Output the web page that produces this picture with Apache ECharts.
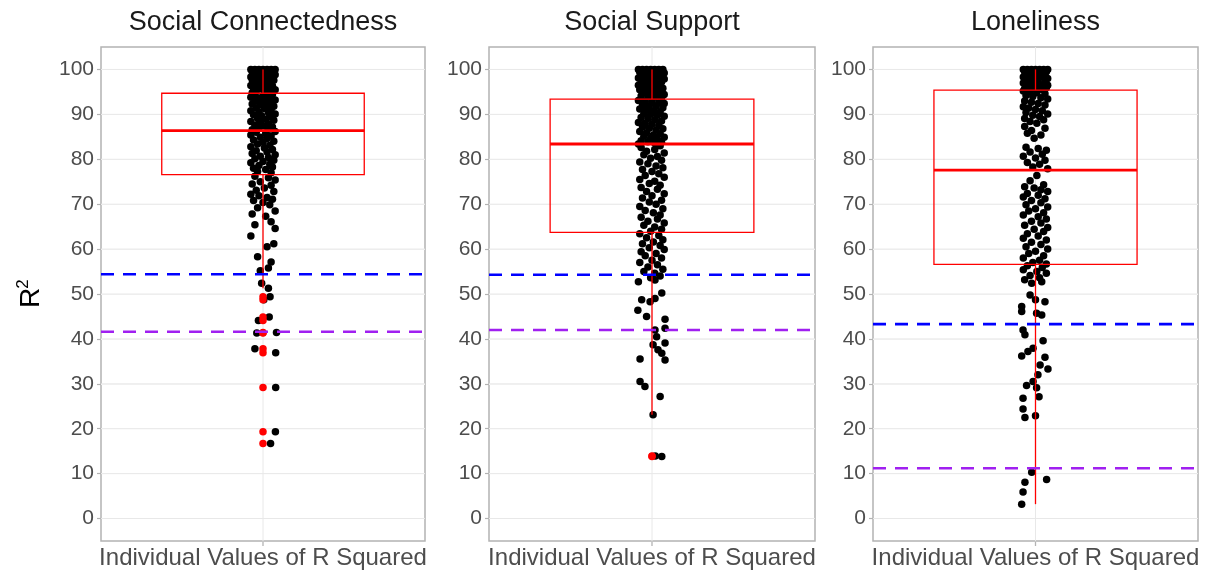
<!DOCTYPE html>
<html>
<head>
<meta charset="utf-8">
<script src="https://cdn.jsdelivr.net/npm/echarts@6/dist/echarts.min.js"></script>
<style>
  html, body { margin: 0; padding: 0; background: #ffffff; }
  #chart { width: 1215px; height: 573px; }
</style>
</head>
<body>
<div id="chart"></div>
<script>
// Panel titles, category label and y ticks
const panelTitles = ['Social Connectedness', 'Social Support', 'Loneliness'];
const categoryLabel = 'Individual Values of R Squared';
const yTicks = [0, 10, 20, 30, 40, 50, 60, 70, 80, 90, 100];

// Individual R squared values: [horizontal jitter (category units), value]
const connectednessPoints = [
  [-0.045,100],[-0.03,100],[-0.015,100],[0,100],[0.015,100],[0.03,100],[0.045,100],
  [-0.04,99.5],[-0.02,99.6],[0.01,99.4],[0.025,99.7],[0.04,99.3],
  [-0.035,99],[-0.005,98.9],[0.02,99.1],[0.045,98.8],
  [-0.045,98.3],[-0.025,98.5],[0.005,98.2],[0.03,98.4],
  [-0.04,97.7],[-0.015,97.8],[0.015,97.5],[0.04,97.6],
  [-0.03,97],[0,97.1],[0.025,96.9],
  [-0.045,96.4],[-0.02,96.5],[0.01,96.2],[0.035,96.3],
  [-0.035,95.8],[-0.005,95.7],[0.02,95.9],[0.045,95.5],
  [-0.025,95.1],[0.005,95.2],[0.03,95],[-0.04,94.8],[0.015,94.9],
  [-0.03,94.3],[0,94.2],[0.035,94.4],[-0.045,93.8],[-0.015,93.6],[0.02,93.7],[0.045,93.2],
  [-0.03,93],[0.005,92.9],[0.03,92.6],[-0.04,92.3],[-0.01,92.2],[0.015,91.9],[0.04,91.8],
  [-0.025,91.5],[0.005,91.3],[0.03,91],[-0.045,90.8],[-0.015,90.6],[0.02,90.4],[0.045,90.1],
  [-0.035,89.9],[-0.005,89.7],[0.025,89.5],[-0.02,89.1],[0.01,88.9],[0.04,88.7],
  [-0.045,88.4],[-0.01,88.2],[0.02,87.9],[-0.03,87.6],[0.005,87.4],[0.035,87.2],
  [-0.015,86.9],[0.02,86.7],[-0.04,86.6],
  [0.045,86.2],[-0.025,86],[0.01,85.8],[-0.045,85.4],[0.03,85.2],[-0.01,84.9],[0.015,84.6],
  [-0.035,84.3],[0.04,84],[0,83.8],[-0.02,83.4],[0.025,83.1],[-0.045,82.8],[0.005,82.5],
  [0.035,82.2],[-0.025,81.9],[0.015,81.6],[-0.04,81.3],[0.045,81],[-0.01,80.7],[0.02,80.4],
  [-0.03,80.1],[0.04,79.8],[0,79.5],[-0.045,79.2],[0.025,78.9],[-0.015,78.6],[0.035,78.3],
  [-0.035,78],[0.01,77.7],[-0.02,77.3],[0.03,77],
  [-0.03,76.2],[0.02,75.9],[0.045,75.4],[-0.01,75],[-0.04,74.5],[0.03,74.2],[0.005,73.6],
  [-0.025,73.1],[0.04,72.8],[-0.045,72.2],[-0.015,71.9],[0.015,71.5],[0.035,71.1],
  [-0.035,70.8],[0,70.4],[0.025,69.9],[-0.02,69.2],[0.045,68.5],[-0.04,67.8],[0.01,67.3],
  [0.03,66.1],[-0.03,65.4],[0.045,64.6],[-0.045,62.9],[0.04,61.2],[0.015,60.5],
  [-0.02,58.3],[0.03,57.1],[0.02,55.8],[-0.01,55.2],
  [-0.005,52.4],[0.02,51.3],[0.026,49.4],[0.003,48.7],[0.023,44.9],[-0.017,44.1],
  [0.05,41.4],[-0.023,41.3],[-0.03,37.8],[0.047,36.9],[0.047,29.2],[0.046,19.3],[0.028,16.7]
];

const supportPoints = [
  [-0.05,100],[-0.035,100],[-0.02,100],[-0.005,100],[0.01,100],[0.025,100],[0.04,100],
  [-0.045,99.4],[-0.025,99.5],[0,99.3],[0.02,99.6],[0.045,99.2],
  [-0.04,98.8],[-0.015,98.7],[0.01,98.9],[0.035,98.6],
  [-0.05,98.1],[-0.03,98.2],[-0.005,98],[0.02,98.3],[0.045,97.9],
  [-0.04,97.5],[-0.015,97.4],[0.01,97.6],[0.035,97.2],
  [-0.025,96.9],[0,96.8],[0.025,96.6],[-0.05,96.5],
  [-0.035,96.1],[-0.01,96],[0.015,96.2],[0.04,95.8],
  [-0.045,95.5],[-0.02,95.3],[0.005,95.4],[0.03,95.1],
  [-0.03,94.8],[-0.005,94.7],[0.02,94.5],[0.045,94.4],
  [-0.04,94.1],[-0.015,93.9],[0.01,93.8],[0.035,93.5],
  [-0.05,93.1],[-0.025,92.9],[0,92.8],[0.025,92.6],[0.045,92.4],
  [-0.035,92.1],[-0.01,91.9],[0.015,91.8],[0.04,91.5],
  [-0.045,91.2],[-0.02,91],[0.005,90.8],[0.03,90.6],
  [-0.03,90.2],[-0.005,90],[0.02,89.8],[0.045,89.6],
  [-0.04,89.3],[-0.015,89.1],[0.01,88.8],[0.035,88.5],
  [-0.05,88.2],[-0.025,88],[0,87.8],[0.025,87.5],
  [-0.035,87.2],[-0.01,86.9],[0.04,86.8],[0.015,86.5],
  [-0.045,86.2],[-0.02,85.9],[0.03,85.7],[0.005,85.4],
  [-0.03,85.1],[0.045,84.9],[-0.005,84.7],[0.02,84.4],
  [-0.04,84.1],[-0.015,83.9],[0.035,83.8],[0.01,83.6],[-0.05,83.4],[0.025,83.35],
  [0.03,83],[-0.04,82.6],[0.01,82.2],[-0.02,81.8],[0.045,81.4],[-0.03,81],[0.02,80.6],
  [-0.005,80.2],[0.035,79.8],[-0.045,79.4],[-0.015,79],[0.015,78.5],[0.04,78.1],
  [-0.035,77.7],[0,77.3],[0.025,76.8],[-0.025,76.4],[0.045,76],[-0.045,75.5],[0.01,75.1],
  [-0.01,74.6],[0.03,74.2],[-0.04,73.7],[0.02,73.3],[-0.02,72.8],[0.045,72.3],[0,71.9],
  [-0.035,71.4],[0.035,70.9],[-0.01,70.5],[0.015,70],[-0.045,69.5],[0.04,69],[-0.025,68.6],
  [0.005,68.1],[0.03,67.6],[-0.04,67.1],[0.02,66.7],[-0.015,66.2],[0.045,65.8],[-0.03,65.3],
  [0.01,64.9],[0.035,64.4],[-0.005,64],
  [-0.045,63.4],[0.025,63],[-0.02,62.5],[0.04,62.1],[0.005,61.6],[-0.035,61.2],[0.03,60.8],
  [-0.01,60.3],[0.045,59.9],[-0.04,59.4],[0.015,59],[-0.025,58.5],[0.035,58],[0,57.5],
  [-0.045,57],[0.02,56.5],[-0.015,56],[0.04,55.5],[-0.03,55],[0.01,54.6],[0.03,54],[-0.005,53.6],
  [-0.05,52.7],[0.011,53.1],[0.036,50.2],[-0.038,48.7],[-0.007,48.3],[0.011,49],
  [-0.052,46.4],[-0.02,45],[0.048,44.4],[0.011,42],[0.048,42.4],[0.017,40.5],[0.004,38.7],
  [0.048,39.1],[0.022,37.6],[0.036,36.8],[-0.044,35.5],[0.048,35.3],[-0.044,30.5],
  [-0.026,29.4],[0.03,27.2],[0.004,23.1],[0.012,13.9],[0.036,13.8]
];

const lonelinessPoints = [
  [-0.045,100],[-0.03,100],[-0.015,100],[0,100],[0.015,100],[0.03,100],[0.045,100],
  [-0.04,99.5],[-0.02,99.4],[0.005,99.6],[0.025,99.3],[0.04,99.5],
  [-0.035,98.9],[-0.01,98.8],[0.015,99],[0.035,98.7],
  [-0.045,98.3],[-0.025,98.2],[0,98.1],[0.02,98.4],[0.045,98],
  [-0.035,97.6],[-0.01,97.5],[0.01,97.7],[0.035,97.3],
  [-0.045,97],[-0.02,96.9],[0.005,96.8],[0.025,96.6],[0.045,96.5],
  [-0.03,96.3],[-0.005,96.2],[0.015,96],[0.04,95.9],
  [-0.04,95.7],[-0.015,95.6],[0.01,95.5],[0.03,95.45],
  [-0.045,95.2],[-0.02,95],[0.005,94.8],[0.035,94.6],[-0.035,94.2],[-0.01,94],[0.02,93.7],
  [0.045,93.4],[-0.04,93],[-0.015,92.7],[0.01,92.4],[0.035,92.1],[-0.045,91.7],[-0.025,91.4],
  [0,91.1],[0.025,90.8],[-0.035,90.4],[0.045,90.1],[-0.01,89.8],[0.015,89.5],[-0.04,89.1],
  [0.03,88.8],[-0.02,88.4],[0.005,88],
  [-0.04,87.3],[0.035,86.9],[-0.015,86.4],[-0.03,85.8],[0.02,85.4],[-0.005,84.7],
  [-0.035,82.7],[0.01,82.4],[0.04,82],[-0.02,81.6],[0.025,81.1],[-0.045,80.7],[0,80.3],
  [0.035,79.8],[-0.03,79.3],[0.015,78.9],[-0.01,78.3],[0.045,77.9],
  [0.005,76.4],[-0.02,75.2],[0.03,74.3],[-0.04,73.9],[-0.005,73.6],[0.02,73.2],[0.045,72.8],
  [-0.03,72.4],[0.01,72],[-0.045,71.6],[0.035,71.2],[-0.015,70.8],[0.02,70.3],[-0.035,69.9],
  [0.045,69.4],[0,69],[-0.025,68.5],[0.03,68.1],[-0.045,67.6],[0.01,67.2],[0.04,66.7],
  [-0.015,66.2],[0.02,65.8],[-0.04,65.3],[0.045,64.8],[-0.005,64.4],[0.03,63.9],[-0.03,63.4],
  [0.01,62.9],[-0.045,62.4],[0.04,62],[-0.015,61.5],[0.02,61],[-0.035,60.5],[0.045,60],
  [0,59.5],[-0.025,59],[0.03,58.5],[-0.045,58],[0.015,57.5],[-0.01,57],[0.04,56.7],
  [-0.03,56.3],[0.025,55.9],[-0.045,55.4],[0.005,55],[0.04,54.6],[-0.02,54.1],[0.015,53.6],[-0.04,53.2],
  [-0.014,52.4],[0.023,52.7],[-0.02,49.8],[0.035,48.3],[-0.051,47.2],[-0.051,46.1],[0,48.7],
  [0.004,45.7],[0.023,45.3],[-0.046,42],[-0.039,40.9],[0.028,39.6],[-0.009,37.9],[-0.028,37.2],
  [-0.051,36.2],[0.035,35.9],[0.017,34.2],[0.046,33.3],[0.009,32],[-0.009,30.5],[-0.033,29.6],
  [0.004,29.1],[0.013,27.1],[-0.046,26.8],[-0.046,24.4],[-0.039,22.5],[0,22.9],
  [-0.014,10.3],[0.041,8.7],[-0.039,8.1],[-0.046,5.9],[-0.051,3.2]
];

// Box statistics: [lower whisker, Q1, median, Q3, upper whisker]
const connectednessBox = [51.3, 76.6, 86.4, 94.7, 100];
const supportBox = [23.1, 63.7, 83.4, 93.4, 100];
const lonelinessBox = [3.2, 56.6, 77.6, 95.4, 100];

// Dashed reference lines per panel
const blueRefs = [54.4, 54.3, 43.3];
const purpleRefs = [41.6, 42.0, 11.2];

const panelPoints = [connectednessPoints, supportPoints, lonelinessPoints];
const panelBoxes = [connectednessBox, supportBox, lonelinessBox];

const FONT = 'Liberation Sans, Arial, sans-serif';
const CENTER = 0.6;          // category position on the 0..1.2 discrete range
const HALF_BOX = 0.375;      // half of the box width
const grids = [
  { left: 101, top: 47, width: 324, height: 494 },
  { left: 489, top: 47, width: 326, height: 494 },
  { left: 873, top: 47, width: 325, height: 494 }
];

const chart = echarts.init(document.getElementById('chart'), null, { renderer: 'canvas' });

function renderBox(params, api) {
  const lo = api.value(0), q1 = api.value(1), md = api.value(2), q3 = api.value(3), hi = api.value(4);
  const pt = (x, y) => api.coord([x, y]);
  const a = pt(CENTER - HALF_BOX, q3), b = pt(CENTER + HALF_BOX, q1);
  const m1 = pt(CENTER - HALF_BOX, md), m2 = pt(CENTER + HALF_BOX, md);
  const wHi = pt(CENTER, hi), wQ3 = pt(CENTER, q3), wQ1 = pt(CENTER, q1), wLo = pt(CENTER, lo);
  const red = '#ff0000';
  return {
    type: 'group',
    children: [
      { type: 'line', shape: { x1: wHi[0], y1: wHi[1], x2: wQ3[0], y2: wQ3[1] }, style: { stroke: red, lineWidth: 1.3 } },
      { type: 'line', shape: { x1: wQ1[0], y1: wQ1[1], x2: wLo[0], y2: wLo[1] }, style: { stroke: red, lineWidth: 1.3 } },
      { type: 'rect', shape: { x: a[0], y: a[1], width: b[0] - a[0], height: b[1] - a[1] }, style: { fill: 'none', stroke: red, lineWidth: 1.3 } },
      { type: 'line', shape: { x1: m1[0], y1: m1[1], x2: m2[0], y2: m2[1] }, style: { stroke: red, lineWidth: 2.8 } }
    ]
  };
}

// Major grid: horizontal lines at the y ticks, the vertical line at the category,
// and the category tick below the panel
function renderGridLines(params, api) {
  const children = yTicks.map(v => {
    const p1 = api.coord([0, v]), p2 = api.coord([1.2, v]);
    return { type: 'line', shape: { x1: p1[0], y1: p1[1], x2: p2[0], y2: p2[1] }, style: { stroke: '#e8e8e8', lineWidth: 1 } };
  });
  const t = api.coord([CENTER, 105]), b = api.coord([CENTER, -5]);
  children.push({ type: 'line', shape: { x1: t[0], y1: t[1], x2: b[0], y2: b[1] }, style: { stroke: '#e8e8e8', lineWidth: 1 } });
  children.push({ type: 'line', shape: { x1: b[0], y1: b[1] + 1, x2: b[0], y2: b[1] + 5 }, style: { stroke: '#b3b3b3', lineWidth: 1.3 } });
  return { type: 'group', children };
}

const xAxes = [], yAxes = [], series = [], graphics = [];

grids.forEach((g, i) => {
  xAxes.push({
    gridIndex: i, type: 'value', min: 0, max: 1.2, interval: 0.6, position: 'bottom',
    axisLine: { show: false, onZero: false },
    axisTick: { show: false },
    axisLabel: {
      show: true, customValues: [CENTER], margin: 5,
      formatter: v => (Math.abs(v - CENTER) < 1e-6 ? categoryLabel : ''),
      color: '#4d4d4d', fontSize: 24, fontFamily: FONT
    },
    splitLine: { show: false }
  });
  yAxes.push({
    gridIndex: i, type: 'value', min: -5, max: 105, interval: 5, position: 'left',
    axisLine: { show: false, onZero: false },
    axisTick: { show: true, customValues: yTicks, length: 4, lineStyle: { color: '#b3b3b3', width: 1.2 } },
    axisLabel: {
      show: true, customValues: yTicks, margin: 7,
      formatter: v => (v % 10 === 0 && v >= 0 && v <= 100 ? String(v) : ''),
      color: '#4d4d4d', fontSize: 21, fontFamily: FONT
    },
    splitLine: { show: true, lineStyle: { color: '#f4f4f4', width: 1 } }
  });

  const box = panelBoxes[i];
  const pts = panelPoints[i];

  series.push({
    type: 'custom', xAxisIndex: i, yAxisIndex: i, z: 1, silent: true, clip: false,
    renderItem: renderGridLines, data: [[CENTER, 0]]
  });
  series.push({
    type: 'scatter', xAxisIndex: i, yAxisIndex: i, z: 3, silent: true,
    symbol: 'circle', symbolSize: 7.5,
    itemStyle: { color: '#000000', opacity: 1 },
    data: pts.map(([dx, y]) => [CENTER + dx, y])
  });
  series.push({
    type: 'custom', xAxisIndex: i, yAxisIndex: i, z: 4, silent: true,
    renderItem: renderBox, data: [box]
  });
  series.push({
    type: 'scatter', xAxisIndex: i, yAxisIndex: i, z: 5, silent: true,
    symbol: 'circle', symbolSize: 7.5,
    itemStyle: { color: '#ff0000', opacity: 1 },
    data: pts.filter(([, y]) => y < box[0] || y > box[4]).map(([, y]) => [CENTER, y])
  });
  [[blueRefs[i], '#0000ff'], [purpleRefs[i], '#a020f0']].forEach(([v, c]) => {
    series.push({
      type: 'line', xAxisIndex: i, yAxisIndex: i, z: 6, silent: true,
      symbol: 'none',
      lineStyle: { color: c, width: 2.6, type: [13, 9] },
      data: [[0, v], [1.2, v]]
    });
  });

  graphics.push({
    type: 'text', x: g.left + g.width / 2, y: 23,
    style: { text: panelTitles[i], fontSize: 27, fontFamily: FONT, fill: '#1a1a1a', align: 'center', verticalAlign: 'middle', textAlign: 'center', textVerticalAlign: 'middle' }
  });
});

// Y axis title: R with superscript 2, reading upward
graphics.push({
  type: 'group', x: 31, y: 298, rotation: Math.PI / 2,
  children: [
    { type: 'text', x: 0, y: 0, style: { text: 'R', fontSize: 28, fontFamily: FONT, fill: '#000000', align: 'center', verticalAlign: 'middle', textAlign: 'center', textVerticalAlign: 'middle' } },
    { type: 'text', x: 14, y: -8, style: { text: '2', fontSize: 17, fontFamily: FONT, fill: '#000000', align: 'center', verticalAlign: 'middle', textAlign: 'center', textVerticalAlign: 'middle' } }
  ]
});

chart.setOption({
  animation: false,
  backgroundColor: '#ffffff',
  grid: grids.map(g => Object.assign({ show: true, borderColor: '#b3b3b3', borderWidth: 1.5, backgroundColor: 'transparent', containLabel: false }, g)),
  xAxis: xAxes,
  yAxis: yAxes,
  series: series,
  graphic: graphics
});
</script>
</body>
</html>
